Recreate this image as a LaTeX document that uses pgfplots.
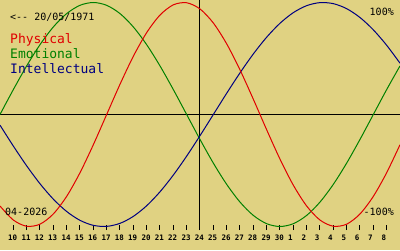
\documentclass[border=0pt]{standalone}
\usepackage{fontspec}
\usepackage{pgfplots}
\pgfplotsset{compat=1.18}
\newfontfamily\mono{DejaVu Sans Mono}
\definecolor{bgk}{RGB}{224,210,130}
\definecolor{cphys}{RGB}{224,0,0}
\definecolor{cemo}{RGB}{0,128,0}
\definecolor{cint}{RGB}{0,0,128}
\begin{document}
\begin{tikzpicture}
\fill[bgk] (0,-20pt) rectangle (400pt,230pt);
\begin{axis}[
  at={(0,0)}, anchor=south west, scale only axis,
  width=400pt, height=230pt,
  xmin=-15, xmax=15, ymin=-103.125, ymax=102.23,
  axis line style={draw=none},
  xtick={-14,-13,-12,-11,-10,-9,-8,-7,-6,-5,-4,-3,-2,-1,0,1,2,3,4,5,6,7,8,9,10,11,12,13,14},
  xticklabels={10,11,12,13,14,15,16,17,18,19,20,21,22,23,24,25,26,27,28,29,30,1,2,3,4,5,6,7,8},
  xtick pos=bottom, ytick=\empty,
  tick align=inside, major tick length=5pt,
  tick style={black, line width=1pt},
  xticklabel style={font=\mono\bfseries\fontsize{7.5}{8}\selectfont, anchor=base west, inner sep=0pt, xshift=-5.3pt, yshift=-10pt},
  /pgf/number format/assume math mode=true,
]
\addplot[black, line width=1pt] coordinates {(-15,0) (15,0)};
\addplot[black, line width=1pt] coordinates {(0,-103.125) (0,102.23)};
\addplot[cemo, line width=1pt, smooth] coordinates {
(-15,0) (-14,22.25) (-13,43.39) (-12,62.35) (-11,78.18) (-10,90.10) (-9,97.49) (-8,100) (-7,97.49) (-6,90.10) (-5,78.18) (-4,62.35) (-3,43.39) (-2,22.25) (-1,0) (0,-22.25) (1,-43.39) (2,-62.35) (3,-78.18) (4,-90.10) (5,-97.49) (6,-100) (7,-97.49) (8,-90.10) (9,-78.18) (10,-62.35) (11,-43.39) (12,-22.25) (13,0) (14,22.25) (15,43.39)};
\addplot[cint, line width=1pt, smooth] coordinates {
(-15,-9.51) (-14,-28.17) (-13,-45.82) (-12,-61.82) (-11,-75.57) (-10,-86.60) (-9,-94.50) (-8,-98.98) (-7,-99.89) (-6,-97.18) (-5,-90.96) (-4,-81.46) (-3,-69.01) (-2,-54.06) (-1,-37.17) (0,-18.93) (1,0) (2,18.93) (3,37.17) (4,54.06) (5,69.01) (6,81.46) (7,90.96) (8,97.18) (9,99.89) (10,98.98) (11,94.50) (12,86.60) (13,75.57) (14,61.82) (15,45.82)};
\addplot[cphys, line width=1pt, smooth] coordinates {
(-15,-81.70) (-14,-94.23) (-13,-99.77) (-12,-97.91) (-11,-88.79) (-10,-73.08) (-9,-51.96) (-8,-26.98) (-7,0) (-6,26.98) (-5,51.96) (-4,73.08) (-3,88.79) (-2,97.91) (-1,99.77) (0,94.23) (1,81.70) (2,63.11) (3,39.84) (4,13.62) (5,-13.62) (6,-39.84) (7,-63.11) (8,-81.70) (9,-94.23) (10,-99.77) (11,-97.91) (12,-88.79) (13,-73.08) (14,-51.96) (15,-26.98)};
\end{axis}
\begin{scope}[every node/.style={inner sep=0pt}]
\node[anchor=base west, font=\mono\fontsize{10}{12}\selectfont] at (10pt,209.3pt) {<-{}- 20/05/1971};
\node[anchor=base west, text=cphys, font=\mono\fontsize{13}{15}\selectfont] at (10pt,186.7pt) {Physical};
\node[anchor=base west, text=cemo, font=\mono\fontsize{13}{15}\selectfont] at (10pt,171.7pt) {Emotional};
\node[anchor=base west, text=cint, font=\mono\fontsize{13}{15}\selectfont] at (10pt,156.7pt) {Intellectual};
\node[anchor=base east, font=\mono\fontsize{10}{12}\selectfont] at (394pt,214.3pt) {100\%};
\node[anchor=base east, font=\mono\fontsize{10}{12}\selectfont] at (394pt,14.3pt) {-100\%};
\node[anchor=base west, font=\mono\fontsize{10}{12}\selectfont] at (5pt,14.3pt) {04-2026};
\end{scope}
\pgfresetboundingbox
\path (0,-20pt) rectangle (400pt,230pt);
\end{tikzpicture}
\end{document}
